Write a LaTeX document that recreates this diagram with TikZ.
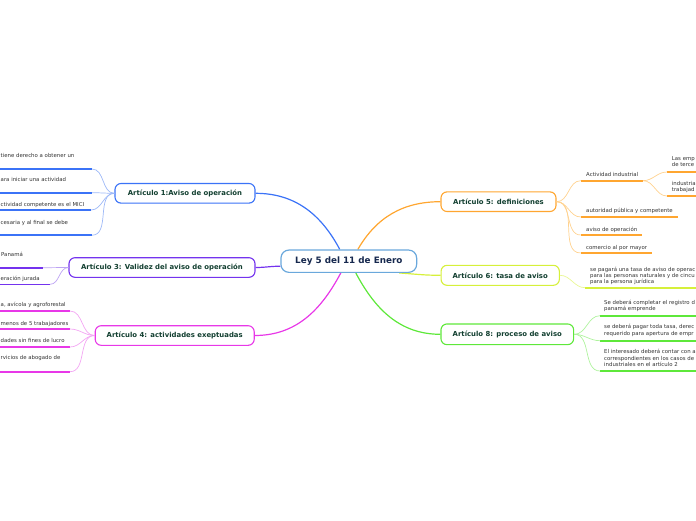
\documentclass[tikz,border=0pt]{standalone}
\usepackage{fontspec}
\setmainfont{DejaVu Sans}
\usetikzlibrary{backgrounds}
\definecolor{cA}{HTML}{3B73F7}
\definecolor{cAl}{HTML}{9DB8F7}
\definecolor{cP}{HTML}{7433EE}
\definecolor{cPl}{HTML}{BDA3F3}
\definecolor{cM}{HTML}{E838E8}
\definecolor{cMl}{HTML}{F3A6F3}
\definecolor{cO}{HTML}{FFA630}
\definecolor{cOl}{HTML}{FFD28F}
\definecolor{cY}{HTML}{D6F03A}
\definecolor{cYl}{HTML}{E9F795}
\definecolor{cG}{HTML}{5EE83A}
\definecolor{cGl}{HTML}{AEF39D}
\definecolor{cenB}{HTML}{6AA8DC}
\definecolor{cenT}{HTML}{16284E}
\definecolor{titT}{HTML}{123F30}
\definecolor{leafT}{HTML}{333333}
\begin{document}
\begin{tikzpicture}[x=1pt,y=-1pt,
  titlebox/.style={draw, rounded corners=6pt, line width=1.1pt, fill=white,
    font=\fontsize{6.9}{8}\selectfont\bfseries, text=titT, inner sep=0pt, minimum height=19.6pt},
  leaf/.style={inner sep=0pt, align=left, font=\fontsize{5.4}{6.4}\selectfont, text=leafT,
    execute at begin node=\strut},
  uline/.style={line width=1.6pt},
  mainlink/.style={line width=1.2pt},
  sublink/.style={line width=0.7pt}]
\useasboundingbox (0,0) rectangle (696,520);
\clip (0,0) rectangle (696,520);

% ---------- central and article nodes ----------
\node[draw=cenB, line width=1.2pt, rounded corners=8pt, fill=white, inner sep=0pt,
  minimum width=135.7pt, minimum height=22.3pt,
  font=\fontsize{8.8}{10}\selectfont\bfseries, text=cenT] (c) at (348.8,261.2) {Ley 5 del 11 de Enero};
\node[titlebox, draw=cA, minimum width=140pt] (a1) at (185,193.3) {Artículo 1:Aviso de operación};
\node[titlebox, draw=cP, minimum width=186pt] (a3) at (162,267.5) {Artículo 3: Validez del aviso de operación};
\node[titlebox, draw=cM, minimum width=159pt] (a4) at (174.7,335.5) {Artículo 4: actividades exeptuadas};
\node[titlebox, draw=cO, minimum width=115pt] (a5) at (498.5,201.7) {Artículo 5: definiciones};
\node[titlebox, draw=cY, minimum width=118.3pt, minimum height=20pt] (a6) at (500.2,275.3) {Artículo 6: tasa de aviso};
\node[titlebox, draw=cG, minimum width=132.7pt, minimum height=20.7pt] (a8) at (507.3,334.3) {Artículo 8: proceso de aviso};

% ---------- main connectors ----------
\begin{scope}[on background layer]
\draw[mainlink, cA] ([xshift=-9pt]c.north) to[out=118,in=0] (a1.east);
\draw[mainlink, cP] ([yshift=-5pt]c.west) to[out=180,in=0] (a3.east);
\draw[mainlink, cM] ([xshift=-8pt]c.south) to[out=242,in=0] (a4.east);
\draw[mainlink, cO] ([xshift=9pt]c.north) to[out=60,in=180] (a5.west);
\draw[mainlink, cY] ([xshift=-18pt]c.south east) to[out=-4,in=180] (a6.west);
\draw[mainlink, cG] ([xshift=7pt]c.south) to[out=298,in=180] (a8.west);
\end{scope}

% ---------- Artículo 1 leaves ----------
\node[leaf, anchor=north west] (t11) at (0.5,152.9) {tiene derecho a obtener un};
\node[leaf, anchor=north west] (t12) at (0.5,177.2) {ara iniciar una actividad};
\node[leaf, anchor=north west] (t13) at (0.5,201.5) {ctividad competente es el MICI};
\node[leaf, anchor=north west] (t14) at (0.5,219.9) {cesaria y al final se debe};
\coordinate (e11) at (92,169);
\coordinate (e12) at (92,192.7);
\coordinate (e13) at (91,210);
\coordinate (e14) at (92,235.2);
\foreach \e in {e11,e12,e13,e14}{
  \draw[uline, cA] (-5,0 |- \e) -- (\e);
  \draw[sublink, cAl] (a1.west) to[out=180,in=0] (\e);
}

% ---------- Artículo 3 leaves ----------
\node[leaf, anchor=north west] (t31) at (1,252.2) {Panamá};
\node[leaf, anchor=north west] (t32) at (0.5,276.2) {eración jurada};
\coordinate (e31) at (43,267.7);
\coordinate (e32) at (50,284.3);
\foreach \e in {e31,e32}{
  \draw[uline, cP] (-5,0 |- \e) -- (\e);
  \draw[sublink, cPl] (a3.west) to[out=180,in=0] (\e);
}

% ---------- Artículo 4 leaves ----------
\node[leaf, anchor=north west] (t41) at (0.5,302.2) {a, avícola y agroforestal};
\node[leaf, anchor=north west] (t42) at (0.5,320.5) {menos de 5 trabajadores};
\node[leaf, anchor=north west] (t43) at (0.5,338.2) {dades sin fines de lucro};
\node[leaf, anchor=north west] (t44) at (0.5,354.9) {rvicios de abogado de};
\coordinate (e41) at (70,311);
\coordinate (e42) at (70,329);
\coordinate (e43) at (70,347);
\coordinate (e44) at (70,371.7);
\foreach \e in {e41,e42,e43,e44}{
  \draw[uline, cM] (-5,0 |- \e) -- (\e);
  \draw[sublink, cMl] (a4.west) to[out=180,in=0] (\e);
}

% ---------- Artículo 5 leaves ----------
\node[leaf, anchor=north west] (t51) at (586,171.9) {Actividad industrial};
\node[leaf, anchor=north west] (t52) at (586,208.2) {autoridad pública y competente};
\node[leaf, anchor=north west] (t53) at (586,226.5) {aviso de operación};
\node[leaf, anchor=north west] (t54) at (586,244.5) {comercio al por mayor};
\node[leaf, anchor=north west] (t511) at (671.7,155.9) {Las emp\\de terce};
\node[leaf, anchor=north west] (t512) at (671.7,180.9) {industria\\trabajad};
\coordinate (s51) at (580.7,180.7); \coordinate (e51) at (643,180.7);
\coordinate (s52) at (580.7,217);   \coordinate (e52) at (678,217);
\coordinate (s53) at (580.7,235);   \coordinate (e53) at (642,235);
\coordinate (s54) at (580.7,253);   \coordinate (e54) at (652,253);
\coordinate (s511) at (667,172); \coordinate (s512) at (667,196);
\foreach \s/\e in {s51/e51,s52/e52,s53/e53,s54/e54}{
  \draw[uline, cO] (\s) -- (\e);
  \draw[sublink, cOl] (a5.east) to[out=0,in=180] (\s);
}
\foreach \s in {s511,s512}{
  \draw[uline, cO] (\s) -- (705,0 |- \s);
  \draw[sublink, cOl] (e51) to[out=0,in=180] (\s);
}

% ---------- Artículo 6 leaf ----------
\node[leaf, anchor=north west] (t61) at (590,266.5) {se pagará una tasa de aviso de operac\\para las personas naturales y de cincu\\para la persona jurídica};
\coordinate (s61) at (585,287.7);
\draw[uline, cY] (s61) -- (705,287.7);
\draw[sublink, cYl] (a6.east) to[out=0,in=180] (s61);

% ---------- Artículo 8 leaves ----------
\node[leaf, anchor=north west] (t81) at (604,299.9) {Se deberá completar el registro d\\panamá emprende};
\node[leaf, anchor=north west] (t82) at (604,324.2) {se deberá pagar toda tasa, derec\\requerido para apertura de empr};
\node[leaf, anchor=north west] (t83) at (604,349.2) {El interesado deberá contar con a\\correspondientes en los casos de\\industriales en el artículo 2};
\coordinate (s81) at (600,315.7);
\coordinate (s82) at (600,340.7);
\coordinate (s83) at (600,371);
\foreach \s in {s81,s82,s83}{
  \draw[uline, cG] (\s) -- (705,0 |- \s);
  \draw[sublink, cGl] (a8.east) to[out=0,in=180] (\s);
}
\end{tikzpicture}
\end{document}
